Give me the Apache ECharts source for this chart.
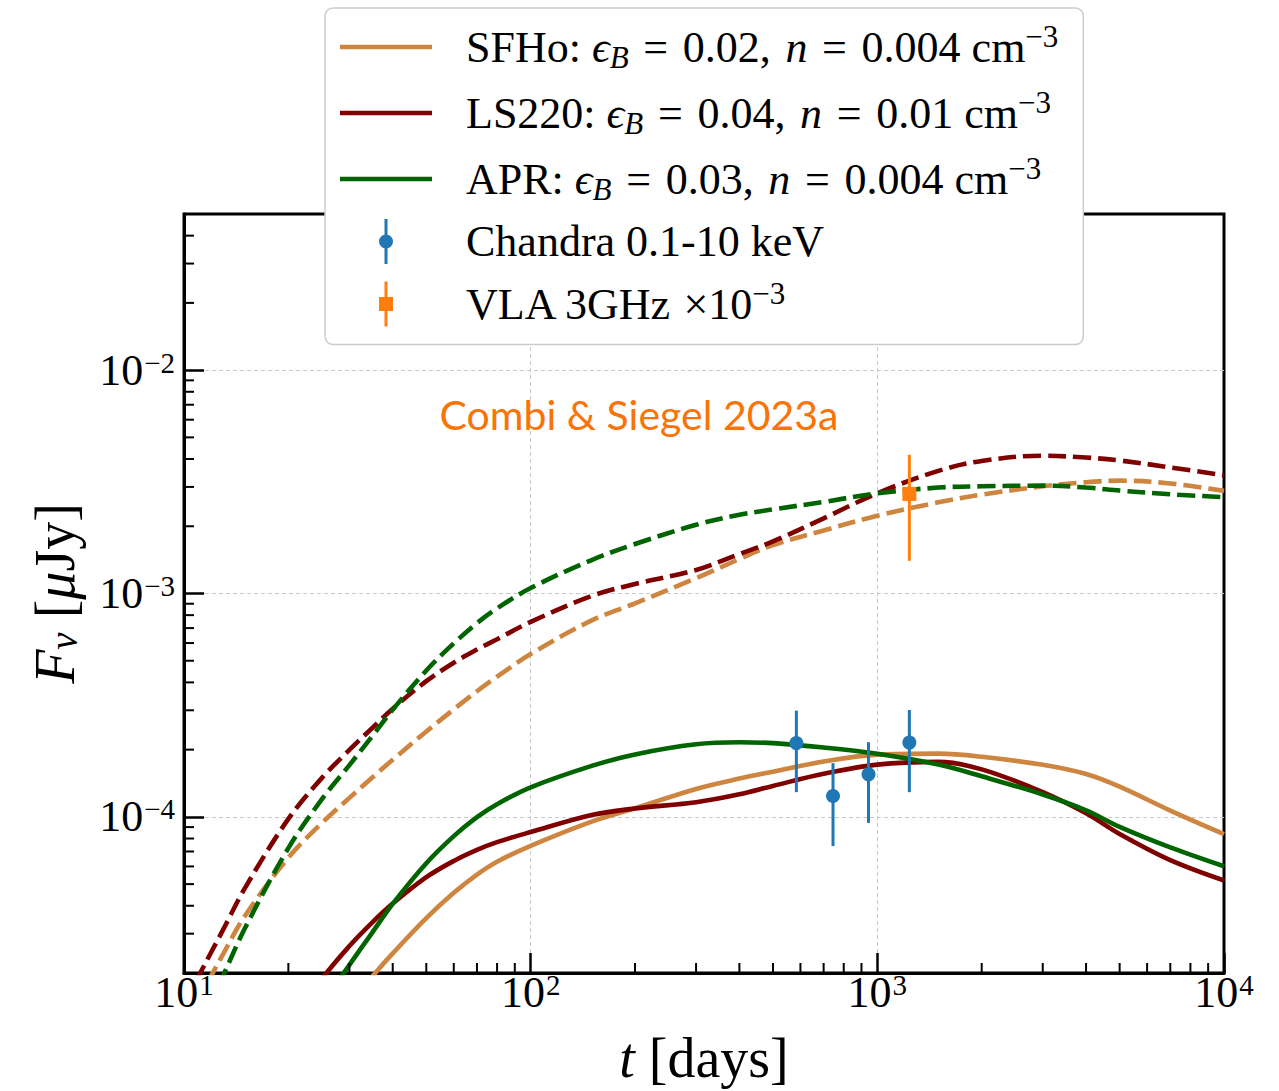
<!DOCTYPE html>
<html>
<head>
<meta charset="utf-8">
<script src="https://cdn.jsdelivr.net/npm/echarts@6.0.0/dist/echarts.min.js"></script>
<style>
html, body { margin: 0; padding: 0; background: #ffffff; }
#chart { width: 1279px; height: 1091px; }
</style>
</head>
<body>
<div id="chart"></div>
<script>
// ---------------- data (t in days, F_nu in microJy) ----------------
const tDays = [10, 11, 12, 13, 15, 20, 25, 30, 35, 40, 50, 60, 70, 80, 100, 150, 200, 300, 400, 500, 700, 1000, 1500, 2000, 3000, 4000, 5000, 7000, 10000];

const sfhoSolid  = [null, null, null, null, null, null, null, 1.476e-5, 1.94e-5, 2.447e-5, 3.52e-5, 4.57e-5, 5.52e-5, 6.30e-5, 7.42e-5, 9.52e-5, 1.093e-4, 1.334e-4, 1.484e-4, 1.593e-4, 1.768e-4, 1.900e-4, 1.919e-4, 1.858e-4, 1.710e-4, 1.555e-4, 1.365e-4, 1.067e-4, 8.37e-5];
const sfhoDashed = [1.15e-5, 1.52e-5, 1.95e-5, 2.45e-5, 3.61e-5, 6.57e-5, 9.39e-5, 1.216e-4, 1.505e-4, 1.803e-4, 2.41e-4, 3.03e-4, 3.65e-4, 4.24e-4, 5.36e-4, 7.58e-4, 9.03e-4, 1.171e-3, 1.427e-3, 1.648e-3, 1.916e-3, 2.23e-3, 2.56e-3, 2.77e-3, 3.02e-3, 3.15e-3, 3.20e-3, 3.11e-3, 2.88e-3];

const ls220Solid  = [null, null, null, null, null, 1.11e-5, 1.88e-5, 2.64e-5, 3.38e-5, 4.09e-5, 5.37e-5, 6.35e-5, 7.12e-5, 7.71e-5, 8.55e-5, 1.019e-4, 1.091e-4, 1.163e-4, 1.262e-4, 1.376e-4, 1.559e-4, 1.714e-4, 1.762e-4, 1.632e-4, 1.291e-4, 1.038e-4, 8.38e-5, 6.40e-5, 5.19e-5];
const ls220Dashed = [1.46e-5, 1.93e-5, 2.49e-5, 3.15e-5, 4.81e-5, 9.79e-5, 1.495e-4, 1.994e-4, 2.51e-4, 3.05e-4, 4.05e-4, 4.90e-4, 5.61e-4, 6.24e-4, 7.46e-4, 9.75e-4, 1.103e-3, 1.274e-3, 1.502e-3, 1.71e-3, 2.17e-3, 2.81e-3, 3.54e-3, 3.92e-3, 4.14e-3, 4.06e-3, 3.94e-3, 3.67e-3, 3.38e-3];

const aprSolid  = [null, null, null, null, null, null, 1.446e-5, 2.175e-5, 3.05e-5, 4.08e-5, 6.20e-5, 8.20e-5, 9.98e-5, 1.140e-4, 1.356e-4, 1.691e-4, 1.904e-4, 2.113e-4, 2.157e-4, 2.139e-4, 2.044e-4, 1.916e-4, 1.714e-4, 1.519e-4, 1.260e-4, 1.070e-4, 9.02e-5, 7.30e-5, 6.01e-5];
const aprDashed = [null, 1.095e-5, 1.487e-5, 1.963e-5, 3.18e-5, 7.25e-5, 1.20e-4, 1.705e-4, 2.31e-4, 3.02e-4, 4.52e-4, 5.98e-4, 7.37e-4, 8.58e-4, 1.058e-3, 1.412e-3, 1.665e-3, 2.03e-3, 2.25e-3, 2.38e-3, 2.57e-3, 2.81e-3, 2.98e-3, 3.02e-3, 3.04e-3, 2.98e-3, 2.89e-3, 2.78e-3, 2.70e-3];

const chandraT   = [584, 745, 943, 1237];
const chandraF   = [2.14e-4, 1.24e-4, 1.55e-4, 2.15e-4];
const chandraErr = [0.85e-4, 0.50e-4, 0.61e-4, 0.86e-4];

const vlaT   = [1237];
const vlaF   = [2.79e-3];
const vlaErr = [1.39e-3];

// axis ranges and tick labels (powers of ten)
const xRange = [10, 10000];
const yRange = [2e-5, 5e-2];
const xTickExponents = [1, 2, 3, 4];
const yTickExponents = [-4, -3, -2];
const xMinorTicks = [20, 30, 40, 50, 60, 70, 80, 90, 200, 300, 400, 500, 600, 700, 800, 900, 2000, 3000, 4000, 5000, 6000, 7000, 8000, 9000];
const yMinorTicks = [3e-5, 4e-5, 5e-5, 6e-5, 7e-5, 8e-5, 9e-5, 2e-4, 3e-4, 4e-4, 5e-4, 6e-4, 7e-4, 8e-4, 9e-4, 2e-3, 3e-3, 4e-3, 5e-3, 6e-3, 7e-3, 8e-3, 9e-3, 2e-2, 3e-2, 4e-2];

const sp = '\u2004';
const legendLabels = {
  'SFHo':    '{p|SFHo:} {i|ϵ}{sub|B}{t|' + sp + '=' + sp + '0.02,' + sp + '}{i|n}{t|' + sp + '=' + sp + '0.004 cm}{sup|\u22123}',
  'LS220':   '{p|LS220:} {i|ϵ}{sub|B}{t|' + sp + '=' + sp + '0.04,' + sp + '}{i|n}{t|' + sp + '=' + sp + '0.01 cm}{sup|\u22123}',
  'APR':     '{p|APR:} {i|ϵ}{sub|B}{t|' + sp + '=' + sp + '0.03,' + sp + '}{i|n}{t|' + sp + '=' + sp + '0.004 cm}{sup|\u22123}',
  'Chandra': '{p|Chandra 0.1-10 keV}',
  'VLA':     '{p|VLA 3GHz }{t|×10}{sup|\u22123}'
};
const annotation = 'Combi & Siegel 2023a';

// ---------------- helpers ----------------
const L = Math.log10;
function curve(fs) {
  const out = [];
  tDays.forEach((t, i) => { if (fs[i] != null) out.push([L(t), L(fs[i])]); });
  return out;
}
function points(ts, fs) { return ts.map((t, i) => [L(t), L(fs[i])]); }
function bars(ts, fs, es) { return ts.map((t, i) => [L(t), L(fs[i] - es[i]), L(fs[i] + es[i])]); }

const serif = 'Liberation Serif';
const xMin = L(xRange[0]), xMax = L(xRange[1]);
const yMin = L(yRange[0]), yMax = L(yRange[1]);

function powLabel(list) {
  return function (v) {
    const r = Math.round(v);
    if (Math.abs(v - r) > 1e-6 || list.indexOf(r) < 0) return '';
    const e = r < 0 ? '\u2212' + (-r) : String(r);
    return '{b|10}{s|' + e + '}';
  };
}
const tickRich = {
  b: { fontFamily: serif, fontSize: 44, lineHeight: 44, verticalAlign: 'bottom', color: '#000' },
  s: { fontFamily: serif, fontSize: 29, lineHeight: 29, verticalAlign: 'top', padding: [0, 0, 22, 1], color: '#000' }
};

const colors = { sfho: '#CD853F', ls220: '#800000', apr: '#006400', chandra: '#1f77b4', vla: '#ff7f0e' };
const dash = [18, 7];

function lineSeries(name, data, color, dashed) {
  return {
    type: 'line', name: name, data: data, showSymbol: false, symbol: 'none', smooth: 0.35,
    clip: true, silent: true, z: 2,
    itemStyle: { color: color },
    lineStyle: { color: color, width: 4.6, type: dashed ? dash : 'solid', cap: 'butt' }
  };
}

function errorBarSeries(name, data, color) {
  return {
    type: 'custom', name: name, coordinateSystem: 'cartesian2d', silent: true, z: 3,
    encode: { x: 0, y: [1, 2] },
    data: data,
    renderItem: function (params, api) {
      const lo = api.coord([api.value(0), api.value(1)]);
      const hi = api.coord([api.value(0), api.value(2)]);
      return { type: 'line', shape: { x1: lo[0], y1: lo[1], x2: hi[0], y2: hi[1] },
               style: { stroke: color, lineWidth: 3 } };
    }
  };
}

function minorTickSeries(isX) {
  const list = isX ? xMinorTicks : yMinorTicks;
  return {
    type: 'custom', coordinateSystem: 'cartesian2d', silent: true, z: 5, clip: false,
    data: list.map(v => isX ? [L(v), yMin] : [xMin, L(v)]),
    renderItem: function (params, api) {
      const c = api.coord([api.value(0), api.value(1)]);
      const shape = isX ? { x1: c[0], y1: c[1], x2: c[0], y2: c[1] - 10 }
                        : { x1: c[0], y1: c[1], x2: c[0] + 10, y2: c[1] };
      return { type: 'line', shape: shape, style: { stroke: '#000', lineWidth: 2 } };
    }
  };
}

const lineIcon = 'path://M0,0 L92,0 L92,4.6 L0,4.6 Z';
const chandraIcon = 'path://M5.5,0 L8.5,0 L8.5,16 L5.5,16 Z M0,22.5 A7,7 0 1,1 14,22.5 A7,7 0 1,1 0,22.5 Z M5.5,29 L8.5,29 L8.5,45 L5.5,45 Z';
const vlaIcon = 'path://M5.5,0 L8.5,0 L8.5,15.5 L14,15.5 L14,29.5 L8.5,29.5 L8.5,45 L5.5,45 L5.5,29.5 L0,29.5 L0,15.5 L5.5,15.5 Z';

const chart = echarts.init(document.getElementById('chart'), null, { renderer: 'svg' });

const legendRich = {
  p: { fontFamily: serif, fontSize: 44, lineHeight: 52, padding: [0, 0, 0, 29], color: '#000' },
  t: { fontFamily: serif, fontSize: 44, lineHeight: 52, color: '#000' },
  i: { fontFamily: serif, fontSize: 44, lineHeight: 52, fontStyle: 'italic', color: '#000' },
  sub: { fontFamily: serif, fontSize: 31, lineHeight: 31, fontStyle: 'italic', verticalAlign: 'bottom', color: '#000' },
  sup: { fontFamily: serif, fontSize: 31, lineHeight: 31, verticalAlign: 'top', color: '#000' }
};

const option = {
  animation: false,
  backgroundColor: '#ffffff',
  textStyle: { fontFamily: serif },
  grid: { left: 184, top: 214, right: 55, bottom: 118, show: true, borderColor: '#000', borderWidth: 3, backgroundColor: 'transparent', containLabel: false },
  xAxis: {
    type: 'value', min: xMin, max: xMax, interval: 1,
    axisLine: { show: true, onZero: false, lineStyle: { color: '#000', width: 3 } },
    axisTick: { show: true, inside: true, length: 20, lineStyle: { color: '#000', width: 2.5 } },
    splitLine: { show: true, showMinLine: false, showMaxLine: false, lineStyle: { color: '#c8c8c8', width: 1, type: [4, 3] } },
    axisLabel: { margin: -3, formatter: powLabel(xTickExponents), rich: tickRich, color: '#000' },
    name: '{i|t} {t|[days]}', nameLocation: 'middle', nameGap: 57,
    nameTextStyle: {
      fontFamily: serif, fontSize: 56, color: '#000',
      rich: {
        i: { fontFamily: serif, fontSize: 56, lineHeight: 56, fontStyle: 'italic', color: '#000' },
        t: { fontFamily: serif, fontSize: 56, lineHeight: 56, color: '#000' }
      }
    }
  },
  yAxis: {
    type: 'value', min: yMin, max: yMax, minInterval: 1, maxInterval: 1, splitNumber: 3,
    axisLine: { show: true, onZero: false, lineStyle: { color: '#000', width: 3 } },
    axisTick: { show: true, inside: true, length: 20, lineStyle: { color: '#000', width: 2.5 } },
    splitLine: { show: true, showMinLine: false, showMaxLine: false, lineStyle: { color: '#c8c8c8', width: 1, type: [4, 3] } },
    axisLabel: { margin: 9, formatter: powLabel(yTickExponents), rich: tickRich, color: '#000', showMinLabel: false, showMaxLabel: false },
    name: '{i|F}{sub|ν}{t| [}{i|μ}{t|Jy]}', nameLocation: 'middle', nameGap: 101, nameRotate: 90,
    nameTextStyle: {
      fontFamily: serif, fontSize: 56, color: '#000',
      rich: {
        i: { fontFamily: serif, fontSize: 56, lineHeight: 56, fontStyle: 'italic', color: '#000' },
        t: { fontFamily: serif, fontSize: 56, lineHeight: 56, color: '#000' },
        sub: { fontFamily: serif, fontSize: 39, lineHeight: 39, fontStyle: 'italic', verticalAlign: 'bottom', color: '#000' }
      }
    }
  },
  legend: {
    orient: 'vertical', left: 325, top: 8,
    itemWidth: 92, itemHeight: 45, itemGap: 14,
    padding: [13, 25, 18, 15],
    backgroundColor: '#ffffff', borderColor: '#cccccc', borderWidth: 1.5, borderRadius: 8,
    selectedMode: false, symbolKeepAspect: true, z: 10,
    data: [
      { name: 'SFHo', icon: lineIcon },
      { name: 'LS220', icon: lineIcon },
      { name: 'APR', icon: lineIcon },
      { name: 'Chandra', icon: chandraIcon },
      { name: 'VLA', icon: vlaIcon }
    ],
    formatter: function (n) { return legendLabels[n]; },
    textStyle: { fontFamily: serif, fontSize: 44, color: '#000', rich: legendRich }
  },
  graphic: [{
    type: 'text', x: 639, y: 414, z: 20, silent: true,
    style: { text: annotation, fill: '#f97306', font: "41px Lato, 'Open Sans', sans-serif",
             align: 'center', verticalAlign: 'middle', textAlign: 'center', textVerticalAlign: 'middle' }
  }],
  series: [
    lineSeries('SFHo', curve(sfhoSolid), colors.sfho, false),
    lineSeries('SFHo', curve(sfhoDashed), colors.sfho, true),
    lineSeries('LS220', curve(ls220Solid), colors.ls220, false),
    lineSeries('LS220', curve(ls220Dashed), colors.ls220, true),
    lineSeries('APR', curve(aprSolid), colors.apr, false),
    lineSeries('APR', curve(aprDashed), colors.apr, true),
    errorBarSeries('Chandra error', bars(chandraT, chandraF, chandraErr), colors.chandra),
    errorBarSeries('VLA error', bars(vlaT, vlaF, vlaErr), colors.vla),
    {
      type: 'scatter', name: 'Chandra', data: points(chandraT, chandraF), symbol: 'circle', symbolSize: 14,
      itemStyle: { color: colors.chandra, opacity: 1 }, z: 4, silent: true
    },
    {
      type: 'scatter', name: 'VLA', data: points(vlaT, vlaF), symbol: 'rect', symbolSize: 14,
      itemStyle: { color: colors.vla, opacity: 1 }, z: 4, silent: true
    },
    minorTickSeries(true),
    minorTickSeries(false)
  ]
};

chart.setOption(option);
</script>
</body>
</html>
